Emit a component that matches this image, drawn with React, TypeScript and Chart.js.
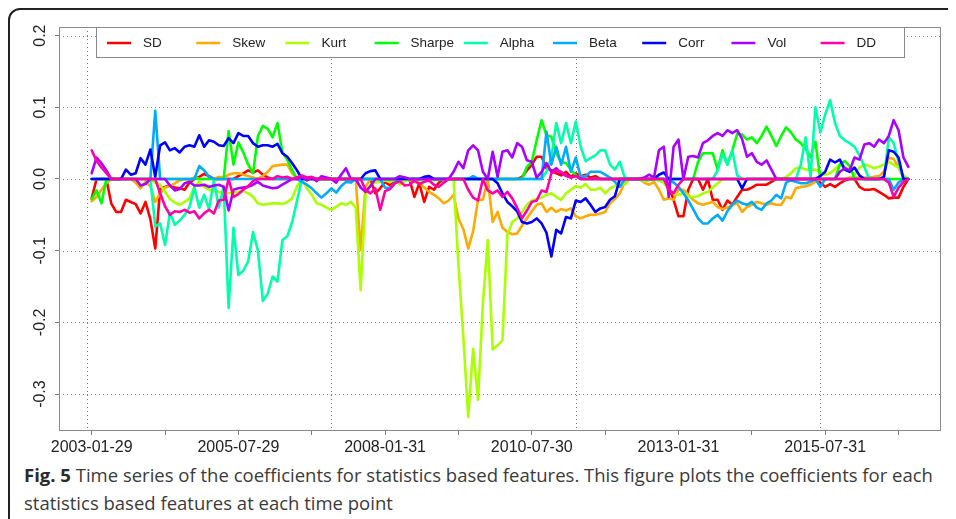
import React, { useEffect, useRef } from 'react';
import { Chart, registerables } from 'chart.js';

Chart.register(...registerables);

// ---- data: [time index (1 = 2003-01-29, monthly), coefficient] ----
const SD: number[][] = [[1,-0.027],[2,0],[4,0],[5,-0.034],[6,-0.046],[7,-0.046],[8,-0.029],[9,-0.032],[10,-0.035],[11,-0.048],[12,-0.032],[13,-0.056],[14,-0.097],[15,-0.014],[16,-0.011],[17,-0.009],[18,-0.012],[19,-0.013],[20,-0.015],[21,-0.005],[22,0],[23,0.003],[24,0.007],[25,0.004],[26,0],[30,0],[31,0.004],[32,0.008],[33,0.012],[34,0.009],[35,0.012],[36,0.006],[37,0.002],[38,0],[58,0],[59,-0.02],[60,-0.013],[61,-0.004],[62,-0.009],[63,-0.003],[64,-0.001],[65,0.002],[66,-0.001],[67,-0.025],[68,-0.006],[69,-0.032],[70,-0.011],[71,-0.015],[72,-0.005],[73,0],[88,0],[89,0.003],[90,0.012],[91,0.02],[92,0.031],[93,0.031],[94,0.015],[95,0.012],[96,0.008],[97,0.005],[98,0.01],[99,0.003],[100,0.008],[101,0.004],[102,0.006],[103,0.002],[104,0.004],[105,0],[118,0],[119,-0.011],[120,-0.029],[121,-0.052],[122,-0.052],[123,-0.015],[124,0],[125,0],[126,-0.015],[127,0],[128,-0.029],[129,-0.029],[130,-0.043],[131,-0.03],[132,-0.036],[133,-0.025],[134,-0.015],[135,-0.015],[136,-0.012],[137,-0.008],[138,-0.008],[139,-0.008],[140,-0.004],[141,0],[149,0],[150,-0.005],[151,-0.011],[152,-0.007],[153,-0.011],[154,-0.006],[155,-0.002],[156,0],[157,0],[158,-0.011],[159,-0.015],[160,-0.015],[161,-0.014],[162,-0.018],[163,-0.022],[164,-0.027],[165,-0.026],[166,-0.026],[167,-0.011],[168,0]];

const SKEW: number[][] = [[1,-0.031],[2,-0.025],[3,-0.015],[4,-0.006],[5,0],[9,0],[10,-0.005],[11,-0.013],[12,-0.004],[13,-0.01],[14,-0.032],[15,-0.02],[16,-0.012],[17,-0.01],[18,-0.006],[19,-0.002],[20,0],[21,-0.001],[22,0.002],[23,0],[26,0],[27,0.003],[28,0.002],[29,0.006],[30,0.008],[31,0.008],[32,0.006],[33,0.004],[34,0.002],[35,0],[36,0.004],[37,0.01],[38,0.018],[39,0.019],[40,0.02],[41,0.02],[42,0.008],[43,0],[55,0],[56,-0.099],[57,-0.011],[58,0],[61,0],[62,-0.003],[63,-0.002],[64,-0.005],[65,0],[66,-0.002],[67,-0.004],[68,-0.005],[69,-0.012],[70,-0.018],[71,-0.022],[72,-0.027],[73,-0.034],[74,-0.03],[75,-0.022],[76,-0.055],[77,-0.07],[78,-0.097],[79,-0.073],[80,-0.029],[81,-0.029],[82,0],[83,-0.06],[84,-0.046],[85,-0.068],[86,-0.074],[87,-0.077],[88,-0.076],[89,-0.065],[90,-0.055],[91,-0.045],[92,-0.036],[93,-0.034],[94,-0.046],[95,-0.04],[96,-0.046],[97,-0.042],[98,-0.044],[99,-0.041],[100,-0.052],[101,-0.055],[102,-0.052],[103,-0.05],[104,-0.05],[105,-0.048],[106,-0.046],[107,-0.034],[108,-0.028],[109,-0.02],[110,-0.005],[111,0],[113,0],[114,-0.005],[115,-0.008],[116,-0.004],[117,-0.015],[118,-0.029],[119,-0.027],[120,-0.029],[121,-0.015],[122,-0.015],[123,-0.022],[124,-0.029],[125,-0.034],[126,-0.036],[127,-0.034],[128,-0.032],[129,-0.039],[130,-0.042],[131,-0.04],[132,-0.036],[133,-0.034],[134,-0.046],[135,-0.039],[136,-0.036],[137,-0.032],[138,-0.034],[139,-0.036],[140,-0.034],[141,-0.036],[142,-0.036],[143,-0.025],[144,-0.027],[145,-0.013],[146,-0.011],[147,-0.01],[148,-0.008],[149,-0.004],[150,0],[155,0],[156,0.002],[160,0.002],[162,0.004],[163,0.01],[164,0.03],[165,0.028],[166,0.016],[167,0.002],[168,0]];

const KURT: number[][] = [[1,0],[13,0],[14,-0.005],[15,-0.008],[16,-0.018],[17,-0.028],[18,-0.033],[19,-0.036],[20,-0.032],[21,-0.027],[22,-0.011],[23,-0.004],[24,-0.011],[25,-0.015],[26,-0.017],[27,-0.018],[28,-0.02],[29,-0.02],[30,-0.019],[31,-0.018],[32,-0.017],[33,-0.02],[34,-0.025],[35,-0.034],[36,-0.036],[37,-0.035],[38,-0.034],[39,-0.034],[40,-0.035],[41,-0.032],[42,-0.027],[43,-0.01],[44,0],[45,-0.013],[46,-0.022],[47,-0.034],[48,-0.036],[49,-0.04],[50,-0.043],[51,-0.039],[52,-0.034],[53,-0.036],[54,-0.032],[55,-0.04],[56,-0.155],[57,-0.022],[58,-0.008],[59,-0.005],[60,-0.004],[61,-0.002],[62,-0.004],[63,0],[64,-0.008],[65,-0.003],[66,0],[67,0],[68,-0.002],[70,-0.002],[75,0],[76,-0.12],[77,-0.22],[78,-0.332],[79,-0.237],[80,-0.308],[81,-0.173],[82,-0.085],[83,-0.238],[84,-0.232],[85,-0.225],[86,-0.078],[87,-0.06],[88,-0.055],[89,-0.046],[90,-0.036],[91,-0.03],[92,-0.028],[93,-0.026],[94,-0.022],[95,-0.02],[96,-0.025],[97,-0.029],[98,-0.02],[99,-0.015],[100,-0.01],[101,-0.012],[102,-0.007],[103,-0.015],[104,-0.015],[105,-0.012],[106,-0.02],[107,-0.013],[108,-0.01],[109,-0.002],[110,-0.008],[111,0],[113,0],[114,-0.003],[116,0],[118,-0.005],[119,-0.015],[120,-0.02],[121,-0.022],[122,-0.02],[123,-0.024],[124,-0.025],[125,-0.024],[126,-0.02],[127,-0.018],[128,-0.012],[129,-0.006],[130,0],[142,0],[143,0.003],[144,0.008],[145,0.015],[146,0.016],[147,0.013],[148,0.013],[149,0.013],[150,0.01],[151,0.006],[152,0.008],[153,0.014],[154,0.02],[155,0.017],[156,0.013],[157,0.006],[158,0.016],[159,0.02],[160,0.018],[161,0.015],[162,0.017],[163,0.02],[164,0.024],[165,0.02],[166,0.016],[167,0.005],[168,0]];

const SHARPE: number[][] = [[1,-0.028],[2,-0.016],[3,-0.034],[4,0],[28,0],[29,0.067],[30,0.02],[31,0.051],[32,0.037],[33,0.02],[34,0.008],[35,0.06],[36,0.074],[37,0.07],[38,0.058],[39,0.078],[40,0.037],[41,0.027],[42,0.012],[43,0],[89,0],[90,0.017],[91,0.024],[92,0.054],[93,0.082],[94,0.061],[95,0.059],[96,0.036],[97,0.024],[98,0.022],[99,0.013],[100,0.005],[101,0],[124,0],[125,0.024],[126,0.036],[127,0.036],[128,0.036],[129,0.013],[130,0.04],[131,0.02],[132,0.04],[133,0.063],[134,0.062],[135,0.055],[136,0.058],[137,0.05],[138,0.06],[139,0.073],[140,0.06],[141,0.046],[142,0.06],[143,0.072],[144,0.065],[145,0.055],[146,0.05],[147,0.042],[148,0.03],[149,0.052],[150,0],[153,0],[154,0.02],[155,0.025],[156,0.018],[157,0],[168,0]];

const ALPHA: number[][] = [[1,0],[13,0],[14,-0.066],[15,-0.062],[16,-0.092],[17,-0.047],[18,-0.064],[19,-0.058],[20,-0.05],[21,-0.039],[22,-0.012],[23,-0.04],[24,-0.022],[25,-0.042],[26,-0.002],[27,-0.04],[28,-0.01],[29,-0.18],[30,-0.068],[31,-0.134],[32,-0.128],[33,-0.115],[34,-0.074],[35,-0.1],[36,-0.17],[37,-0.16],[38,-0.136],[39,-0.143],[40,-0.085],[41,-0.08],[42,-0.06],[43,-0.03],[44,0],[93,0],[94,0.01],[95,0.03],[96,0.078],[97,0.05],[98,0.078],[99,0.05],[100,0.08],[101,0.045],[102,0.025],[103,0.029],[104,0.033],[105,0.04],[106,0.04],[107,0.02],[108,0.013],[109,0.024],[110,0.002],[111,0],[128,0],[129,0.012],[130,0.035],[131,0.02],[132,0.04],[133,0.005],[134,0],[145,0],[146,0.02],[147,0.058],[148,0.002],[149,0.1],[150,0.065],[151,0.09],[152,0.11],[153,0.078],[154,0.06],[155,0.054],[156,0.05],[157,0.045],[158,0.033],[159,0.017],[160,0],[163,0],[164,0.058],[165,0.05],[166,0.024],[167,0],[168,0]];

const BETA: number[][] = [[1,0],[13,0],[14,0.095],[15,0],[22,0],[23,0.018],[24,0.012],[25,0.003],[26,0],[43,0],[44,-0.004],[45,-0.008],[46,-0.013],[47,-0.02],[48,-0.026],[49,-0.02],[50,-0.013],[51,-0.019],[52,-0.01],[53,-0.004],[54,-0.005],[55,0],[60,0],[61,-0.012],[62,-0.013],[63,-0.005],[64,0],[78,0],[79,0.004],[80,0],[93,0],[94,0.066],[95,0.02],[96,0.045],[97,0.02],[98,0.045],[99,0.01],[100,0.03],[101,0.003],[102,0.004],[103,0.01],[104,0.01],[105,0.01],[106,0.006],[107,0.002],[108,-0.004],[109,-0.011],[110,0],[119,0],[120,-0.005],[121,-0.011],[122,-0.02],[123,-0.03],[124,-0.042],[125,-0.055],[126,-0.062],[127,-0.062],[128,-0.055],[129,-0.05],[130,-0.058],[131,-0.045],[132,-0.036],[133,-0.03],[134,-0.034],[135,-0.036],[136,-0.032],[137,-0.04],[138,-0.043],[139,-0.034],[140,-0.03],[141,-0.022],[142,-0.027],[143,-0.005],[144,-0.002],[145,-0.004],[146,-0.006],[147,-0.006],[148,-0.004],[149,0],[150,-0.011],[151,0],[164,0],[165,-0.015],[166,-0.005],[167,0],[168,0]];

const CORR: number[][] = [[1,0],[7,0],[8,0.013],[9,0.006],[10,0.008],[11,0.029],[12,0.02],[13,0.041],[14,0.003],[15,0.047],[16,0.051],[17,0.04],[18,0.043],[19,0.037],[20,0.045],[21,0.047],[22,0.045],[23,0.061],[24,0.045],[25,0.054],[26,0.052],[27,0.047],[28,0.046],[29,0.057],[30,0.05],[31,0.064],[32,0.06],[33,0.06],[34,0.05],[35,0.045],[36,0.047],[37,0.047],[38,0.045],[39,0.049],[40,0.036],[41,0.031],[42,0.022],[43,0.012],[44,0],[56,0],[57,0.008],[58,0.011],[59,0.012],[60,0],[68,0],[69,0.003],[70,0.004],[71,0],[83,0],[84,-0.006],[85,-0.02],[86,-0.032],[87,-0.038],[88,-0.045],[89,-0.06],[90,-0.062],[91,-0.06],[92,-0.055],[93,-0.062],[94,-0.075],[95,-0.108],[96,-0.071],[97,-0.076],[98,-0.053],[99,-0.055],[100,-0.03],[101,-0.032],[102,-0.027],[103,-0.036],[104,-0.046],[105,-0.041],[106,-0.039],[107,-0.029],[108,-0.024],[109,0],[116,0],[117,0.006],[118,0.009],[119,0],[133,0],[134,-0.013],[135,0],[149,0],[150,0.004],[151,0.01],[152,0.027],[153,0.023],[154,0.027],[155,0.013],[156,0.01],[157,0.016],[158,0.005],[159,0],[162,0],[163,0.003],[164,0.04],[165,0.038],[166,0.03],[167,0],[168,0]];

const VOL: number[][] = [[1,0.008],[2,0.03],[3,0.022],[4,0.012],[5,0],[10,0],[11,-0.009],[12,-0.007],[13,0],[16,0],[17,-0.009],[18,-0.016],[19,-0.014],[20,-0.006],[21,-0.004],[22,-0.009],[23,-0.009],[24,-0.008],[25,-0.011],[26,-0.009],[27,-0.008],[28,-0.011],[29,-0.044],[30,-0.015],[31,-0.013],[32,-0.012],[33,-0.011],[34,-0.008],[35,-0.004],[36,-0.009],[37,-0.011],[38,-0.013],[39,-0.012],[40,-0.008],[41,-0.004],[42,0],[43,0],[44,0.003],[45,-0.002],[46,0.002],[47,-0.003],[48,0.004],[49,0.002],[50,0],[51,-0.005],[52,0.006],[53,0.015],[54,0],[55,0],[56,-0.012],[57,-0.018],[58,-0.01],[59,0],[63,0],[64,0.004],[65,0.002],[66,0],[74,0],[75,0.01],[76,0.024],[77,0.015],[78,0.04],[79,0.047],[80,0.04],[81,0.01],[82,0],[83,0.038],[84,0.003],[85,0.038],[86,0.04],[87,0.03],[88,0.05],[89,0.045],[90,0.026],[91,0.024],[92,0.002],[93,0.01],[94,0.022],[95,0.01],[96,0.015],[97,0.008],[98,0.005],[99,0.002],[100,0.004],[101,0],[113,0],[114,0.002],[115,0.006],[116,0.002],[117,0.04],[118,0.045],[119,-0.025],[120,0.045],[121,0.055],[122,0],[123,0.031],[124,0.032],[125,0.03],[126,0.05],[127,0.054],[128,0.06],[129,0.064],[130,0.06],[131,0.068],[132,0.064],[133,0.068],[134,0.056],[135,0.031],[136,0.036],[137,0.024],[138,0.02],[139,0.026],[140,0.013],[141,0],[153,0],[154,0.01],[155,0.015],[156,0.012],[157,0.03],[158,0.027],[159,0.048],[160,0.05],[161,0.045],[162,0.055],[163,0.05],[164,0.06],[165,0.082],[166,0.068],[167,0.03],[168,0.017]];

const DD: number[][] = [[1,0.04],[2,0.025],[3,0.016],[4,0.008],[5,0],[14,0],[15,-0.02],[16,-0.038],[17,-0.05],[18,-0.045],[19,-0.046],[20,-0.043],[21,-0.047],[22,-0.045],[23,-0.055],[24,-0.048],[25,-0.043],[26,-0.048],[27,-0.03],[28,-0.029],[29,0],[30,-0.025],[31,-0.021],[32,-0.015],[33,-0.01],[34,-0.003],[35,0],[38,0],[39,0.004],[40,0.002],[41,0.003],[42,0],[44,0.005],[45,0.002],[46,0.003],[47,0],[56,0],[57,-0.015],[58,-0.02],[59,-0.013],[60,-0.043],[61,-0.017],[62,-0.014],[63,-0.006],[64,-0.003],[65,-0.009],[66,-0.008],[67,-0.002],[68,-0.007],[69,-0.004],[70,-0.002],[71,-0.008],[72,-0.011],[73,-0.005],[74,0],[77,0],[78,-0.015],[79,-0.026],[80,-0.03],[81,0],[82,-0.016],[83,-0.02],[84,-0.016],[85,-0.025],[86,-0.018],[87,-0.027],[88,-0.04],[89,-0.055],[90,-0.044],[91,-0.032],[92,-0.03],[93,-0.016],[94,-0.018],[95,0.008],[96,0.012],[97,0.01],[98,0.004],[99,0.002],[100,0.004],[101,0],[118,0],[119,-0.015],[120,-0.02],[121,-0.008],[122,0],[163,0],[164,-0.005],[165,-0.025],[166,-0.012],[167,-0.004],[168,0]];

const seriesNames = ['SD', 'Skew', 'Kurt', 'Sharpe', 'Alpha', 'Beta', 'Corr', 'Vol', 'DD'];
const seriesData = [SD, SKEW, KURT, SHARPE, ALPHA, BETA, CORR, VOL, DD];
const seriesColors = ['#FF0000', '#FFAA00', '#AAFF00', '#00FF00', '#00FFAA', '#00AAFF', '#0000FF', '#AA00FF', '#FF00AA'];

const xTickPos = [1, 16, 31, 46, 61, 76, 91, 106, 121, 136, 151, 166];
const xTickLabels = ['2003-01-29', '', '2005-07-29', '', '2008-01-31', '', '2010-07-30', '', '2013-01-31', '', '2015-07-31', ''];
const xGridPos = [0, 50, 100, 150];
const yTickPos = [-0.3, -0.2, -0.1, 0, 0.1, 0.2];
const yTickLabels = ['-0.3', '-0.2', '-0.1', '0.0', '0.1', '0.2'];

const AXIS_FONT = "'Liberation Sans', Arial, sans-serif";

const rPlotPlugin = {
  id: 'rPlot',
  beforeDatasetsDraw(chart: any) {
    const { ctx, chartArea: a, scales } = chart;
    const x = scales.x, y = scales.y;
    ctx.save();
    ctx.strokeStyle = '#7a7a7a';
    ctx.lineWidth = 1;
    ctx.setLineDash([1, 3]);
    for (const v of yTickPos) {
      const py = Math.round(y.getPixelForValue(v)) + 0.5;
      ctx.beginPath(); ctx.moveTo(a.left, py); ctx.lineTo(a.right, py); ctx.stroke();
    }
    for (const v of xGridPos) {
      const px = Math.round(x.getPixelForValue(v)) + 0.5;
      ctx.beginPath(); ctx.moveTo(px, a.top); ctx.lineTo(px, a.bottom); ctx.stroke();
    }
    ctx.restore();
  },
  afterDraw(chart: any) {
    const { ctx, chartArea: a, scales } = chart;
    const y = scales.y;
    ctx.save();
    // plot box
    ctx.strokeStyle = '#8a8a8a';
    ctx.lineWidth = 1;
    ctx.strokeRect(a.left + 0.5, a.top + 0.5, a.right - a.left - 1, a.bottom - a.top - 1);
    // rotated y labels
    ctx.fillStyle = '#222';
    ctx.font = `16px ${AXIS_FONT}`;
    ctx.textAlign = 'center';
    ctx.textBaseline = 'middle';
    yTickPos.forEach((v, i) => {
      const py = y.getPixelForValue(v);
      ctx.save();
      ctx.translate(a.left - 18, py);
      ctx.rotate(-Math.PI / 2);
      ctx.fillText(yTickLabels[i], 0, 0);
      ctx.restore();
    });
    // legend box
    const lx = a.left + 37, ly = a.top, lw = 808, lh = 30;
    ctx.fillStyle = '#ffffff';
    ctx.fillRect(lx, ly, lw, lh);
    ctx.strokeStyle = '#8a8a8a';
    ctx.strokeRect(lx + 0.5, ly + 0.5, lw, lh);
    ctx.font = `13.5px ${AXIS_FONT}`;
    ctx.textAlign = 'left';
    ctx.textBaseline = 'middle';
    seriesNames.forEach((name, i) => {
      const sx = lx + 11 + i * 89.2;
      const cy = ly + 16;
      ctx.strokeStyle = seriesColors[i];
      ctx.lineWidth = 2.5;
      ctx.beginPath(); ctx.moveTo(sx, cy); ctx.lineTo(sx + 24, cy); ctx.stroke();
      ctx.fillStyle = '#222';
      ctx.fillText(name, sx + 36, cy);
    });
    ctx.restore();
  },
};

export default function App() {
  const canvasRef = useRef<HTMLCanvasElement>(null);

  useEffect(() => {
    document.body.style.overflow = 'hidden';
    document.documentElement.style.overflow = 'hidden';
    const datasets = seriesData.map((pts, i) => ({
      label: seriesNames[i],
      data: pts.map(([t, v]) => ({ x: t, y: v })),
      borderColor: seriesColors[i],
      backgroundColor: seriesColors[i],
      borderWidth: 2.6,
      pointRadius: 0,
      tension: 0,
      fill: false,
      borderJoinStyle: 'round' as const,
      borderCapStyle: 'round' as const,
      order: 9 - i,
    }));
    const chart = new Chart(canvasRef.current!, {
      type: 'line',
      data: { datasets },
      options: {
        animation: false,
        responsive: false,
        devicePixelRatio: 1,
        events: [],
        layout: { padding: { left: 0, top: 17, right: 9, bottom: 0 } },
        plugins: { legend: { display: false }, tooltip: { enabled: false } },
        scales: {
          x: {
            type: 'linear',
            min: -5.68,
            max: 174.68,
            afterFit: (s: any) => { s.height = 29; },
            afterBuildTicks: (s: any) => { s.ticks = xTickPos.map((v) => ({ value: v })); },
            grid: { drawOnChartArea: false, drawTicks: true, tickLength: 4, color: '#7a7a7a' },
            border: { display: false },
            ticks: {
              autoSkip: false,
              maxRotation: 0,
              minRotation: 0,
              padding: 3,
              color: '#222',
              font: { family: AXIS_FONT, size: 16 },
              callback: (_v: any, i: number) => xTickLabels[i],
            },
          },
          y: {
            type: 'linear',
            min: -0.3515,
            max: 0.212,
            afterFit: (s: any) => { s.width = 49; },
            afterBuildTicks: (s: any) => { s.ticks = yTickPos.map((v) => ({ value: v })); },
            grid: { drawOnChartArea: false, drawTicks: true, tickLength: 4, color: '#7a7a7a' },
            border: { display: false },
            ticks: { display: false },
          },
        },
      },
      plugins: [rPlotPlugin],
    } as any);
    return () => chart.destroy();
  }, []);

  return (
    <div style={{ width: 948, height: 511, overflow: 'hidden', position: 'relative' }}>
      <div
        style={{
          position: 'absolute',
          left: 0,
          top: 0,
          width: 1000,
          height: 560,
          border: '2px solid #222',
          borderRadius: 12,
          background: '#fff',
        }}
      >
        <canvas
          ref={canvasRef}
          width={940}
          height={450}
          style={{ position: 'absolute', left: 0, top: 0, width: 940, height: 450 }}
        />
        <div
          style={{
            position: 'absolute',
            left: 14,
            top: 451,
            fontFamily: "'Open Sans', sans-serif",
            fontSize: 18.5,
            lineHeight: '28px',
            color: '#3a3a3a',
            whiteSpace: 'nowrap',
          }}
        >
          <div>
            <span style={{ fontWeight: 700, color: '#2a2a2a' }}>Fig. 5</span> Time series of the coefficients for
            statistics based features. This figure plots the coefficients for each
          </div>
          <div>statistics based features at each time point</div>
        </div>
      </div>
    </div>
  );
}
